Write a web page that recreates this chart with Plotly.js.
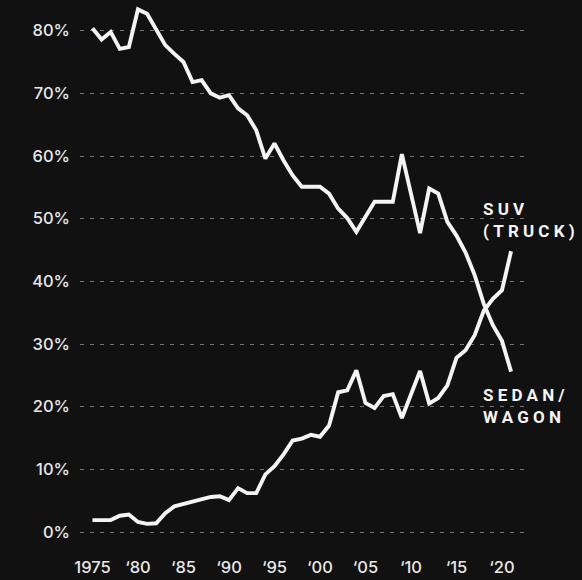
<!DOCTYPE html>
<html>
<head>
<meta charset="utf-8">
<script src="https://cdn.plot.ly/plotly-3.0.1.min.js"></script>
<style>
  html, body { margin: 0; padding: 0; background: #111111; }
  #chart { width: 582px; height: 580px; }
  .annotation-text { letter-spacing: 4.2px; }
</style>
</head>
<body>
<div id="chart"></div>
<script>
const years = [];
for (let y = 1975; y <= 2021; y++) years.push(y);

const sedanWagon = [
  80.4, 78.6, 79.8, 77.1, 77.4, 83.4, 82.7, 80.1, 77.7, 76.3,
  75.0, 71.8, 72.1, 70.0, 69.3, 69.7, 67.6, 66.5, 64.1, 59.6,
  62.0, 59.3, 56.9, 55.1, 55.1, 55.1, 54.0, 51.6, 50.1, 47.9,
  50.3, 52.7, 52.7, 52.7, 60.3, 54.0, 47.7, 54.8, 54.0, 49.5,
  47.3, 44.6, 41.0, 36.4, 33.0, 30.5, 25.6
];

const suvTruck = [
  1.9, 1.9, 1.9, 2.6, 2.8, 1.6, 1.3, 1.4, 3.0, 4.1,
  4.5, 4.8, 5.2, 5.6, 5.7, 5.1, 7.0, 6.2, 6.2, 9.2,
  10.5, 12.4, 14.6, 14.9, 15.5, 15.2, 17.0, 22.3, 22.6, 25.8,
  20.6, 19.8, 21.7, 22.0, 18.2, 21.8, 25.7, 20.5, 21.4, 23.4,
  27.8, 29.0, 31.4, 35.3, 37.2, 38.6, 44.8
];

const xTickVals = [1975, 1980, 1985, 1990, 1995, 2000, 2005, 2010, 2015, 2020];
const xTickText = ["1975", "\u201880", "\u201885", "\u201890", "\u201895", "\u201800", "\u201805", "\u201810", "\u201815", "\u201820"];
const yTickVals = [0, 10, 20, 30, 40, 50, 60, 70, 80];
const yTickText = ["0%", "10%", "20%", "30%", "40%", "50%", "60%", "70%", "80%"];

const labelSUV = "SUV<br>(TRUCK)";
const labelSedan = "SEDAN/<br>WAGON";

const lineStyle = { color: "#f4f4f4", width: 3.9, shape: "linear" };

const traces = [
  { x: years, y: sedanWagon, type: "scatter", mode: "lines", line: lineStyle, hoverinfo: "skip", name: "Sedan/Wagon" },
  { x: years, y: suvTruck, type: "scatter", mode: "lines", line: lineStyle, hoverinfo: "skip", name: "SUV (Truck)" }
];

const tickFont = { family: "Inter, Roboto, 'Liberation Sans', sans-serif", size: 16.5, color: "#e8e8e8", weight: 500 };
const labelFont = { family: "Roboto, 'Liberation Sans', sans-serif", size: 17, color: "#f4f4f4", weight: "bold" };

const layout = {
  width: 582,
  height: 580,
  paper_bgcolor: "#111111",
  plot_bgcolor: "#111111",
  showlegend: false,
  margin: { l: 80, r: 55, t: 5, b: 35 },
  font: { family: "Inter, Roboto, 'Liberation Sans', sans-serif", color: "#e8e8e8", size: 16 },
  xaxis: {
    range: [1973.63, 2022.75],
    tickvals: xTickVals,
    ticktext: xTickText,
    showgrid: false,
    zeroline: false,
    showline: false,
    ticks: "",
    ticklabelstandoff: 10,
    tickfont: tickFont,
    fixedrange: true
  },
  yaxis: {
    range: [-2.07, 84.1],
    tickvals: yTickVals,
    ticktext: yTickText,
    showgrid: true,
    gridcolor: "rgba(200,200,200,0.55)",
    gridwidth: 1,
    griddash: "4px,6px",
    zeroline: false,
    showline: false,
    ticks: "",
    ticklabelstandoff: 9,
    tickfont: tickFont,
    fixedrange: true
  },
  annotations: [
    {
      text: labelSUV, xref: "x", yref: "y", x: 2017.65, y: 49.8,
      xanchor: "left", yanchor: "middle", align: "left", showarrow: false,
      font: labelFont
    },
    {
      text: labelSedan, xref: "x", yref: "y", x: 2017.65, y: 20.1,
      xanchor: "left", yanchor: "middle", align: "left", showarrow: false,
      font: labelFont
    }
  ]
};

Plotly.newPlot("chart", traces, layout, { displayModeBar: false, staticPlot: true });
</script>
</body>
</html>
